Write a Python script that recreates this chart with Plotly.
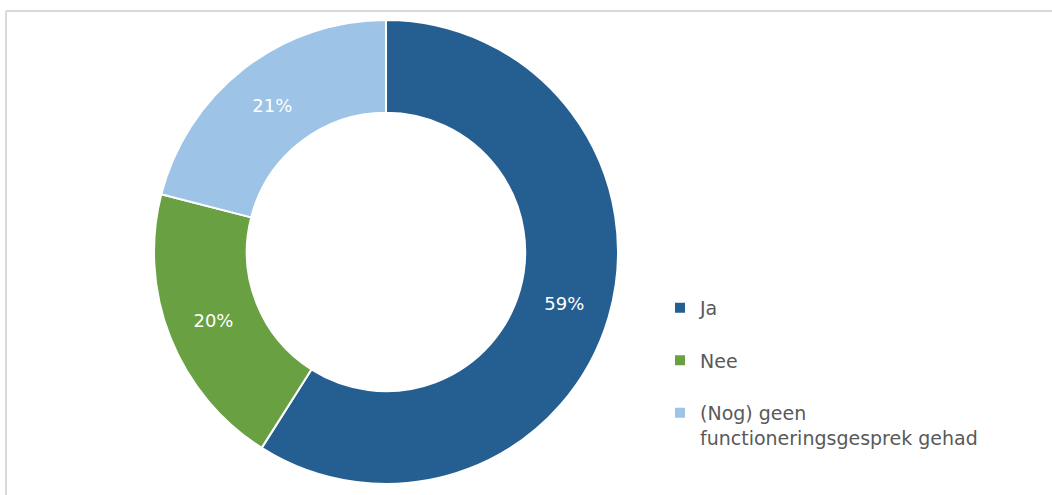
import plotly.graph_objects as go

labels = ["Ja<br> ", "Nee<br> ", "(Nog) geen<br>functioneringsgesprek gehad"]
values = [59, 20, 21]
colors = ["#255e91", "#69a042", "#9dc3e6"]

W, H = 1052, 495

fig = go.Figure(go.Pie(
    labels=labels,
    values=values,
    hole=0.6,
    sort=False,
    direction="clockwise",
    rotation=0,
    marker=dict(colors=colors, line=dict(color="white", width=2)),
    texttemplate="%{percent:.0%}",
    textposition="inside",
    insidetextorientation="horizontal",
    textfont=dict(color="white", size=18, family="DejaVu Sans"),
    domain=dict(x=[(386 - 232) / W, (386 + 232) / W],
                y=[(243 - 232) / H, (243 + 232) / H]),
))

# light grey frame on top and left
fig.add_shape(type="line", xref="paper", yref="paper",
              x0=6 / W, x1=1, y0=1 - 11 / H, y1=1 - 11 / H,
              line=dict(color="#d9d9d9", width=2))
fig.add_shape(type="line", xref="paper", yref="paper",
              x0=6 / W, x1=6 / W, y0=0, y1=1 - 11 / H,
              line=dict(color="#d9d9d9", width=2))

fig.update_layout(
    width=W, height=H,
    margin=dict(l=0, r=0, t=0, b=0),
    paper_bgcolor="white",
    showlegend=True,
    legend=dict(
        x=660 / W, y=1 - 289 / H, xanchor="left", yanchor="top",
        font=dict(color="#595959", size=19, family="DejaVu Sans"),
        valign="top",
        itemclick=False,
    ),
)

fig.write_html("out.html", config={"displayModeBar": False},
               post_script="document.body.style.margin='0';")
